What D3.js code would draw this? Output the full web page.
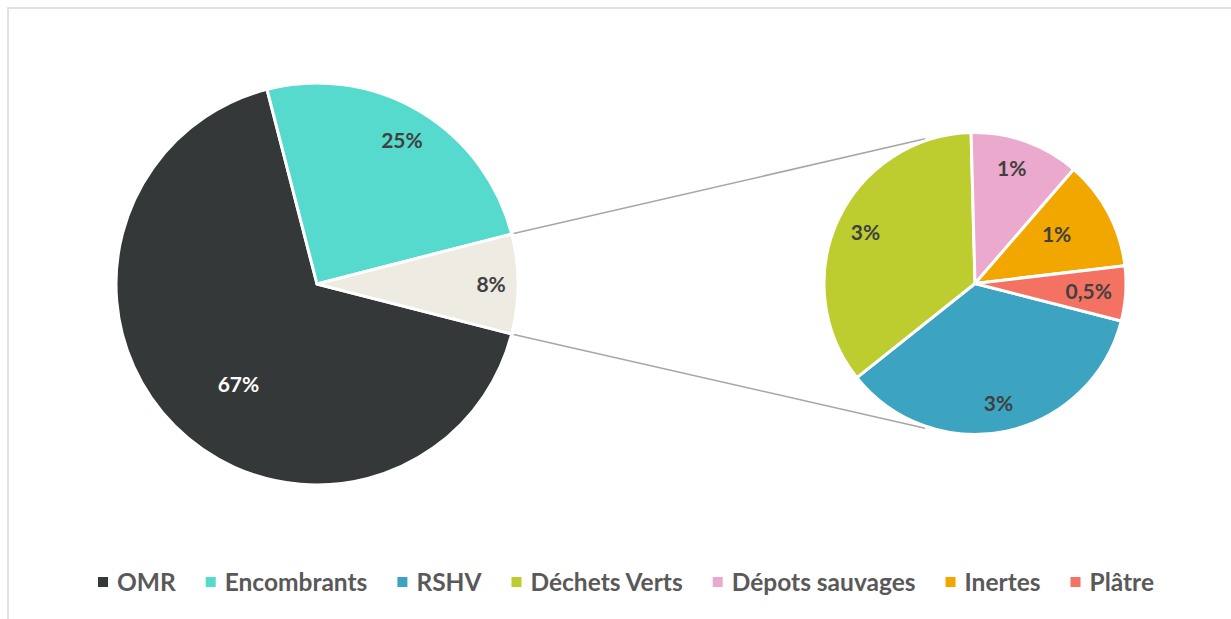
<!DOCTYPE html>
<html lang="fr">
<head>
<meta charset="utf-8">
<script src="https://cdn.jsdelivr.net/npm/d3@7"></script>
<style>
  html, body { margin: 0; padding: 0; background: #ffffff; }
  svg { display: block; }
  text { font-family: Lato, "Open Sans", "Noto Sans", sans-serif; font-weight: 700; }
</style>
</head>
<body>
<svg id="chart" width="1231" height="619"></svg>
<script>
// Main pie: share of each waste stream (%)
const mainCategories = ["OMR", "Encombrants", "Autres"];
const mainValues = [67, 25, 8];

// Breakdown of the "Autres" slice (%)
const detailCategories = ["RSHV", "Déchets Verts", "Dépots sauvages", "Inertes", "Plâtre"];
const detailValues = [3, 3, 1, 1, 0.5];

// Legend entries, in display order
const legendLabels = ["OMR", "Encombrants", "RSHV", "Déchets Verts", "Dépots sauvages", "Inertes", "Plâtre"];

const colorDomain = ["OMR", "Encombrants", "Autres", "RSHV", "Déchets Verts", "Dépots sauvages", "Inertes", "Plâtre"];
const colorRange  = ["#343838", "#55dacd", "#edebe2", "#3ca4c1", "#bdcd2f", "#eba9ce", "#f2a600", "#f47262"];
const color = d3.scaleOrdinal().domain(colorDomain).range(colorRange);

const svg = d3.select("#chart");
const width = 1231, height = 619;

// Chart frame (open on the right and bottom edges)
svg.append("rect")
  .attr("x", 8).attr("y", 8)
  .attr("width", width + 20).attr("height", height + 20)
  .attr("fill", "none").attr("stroke", "#d9d9d9").attr("stroke-width", 1.5);

const fr = d3.formatLocale({ decimal: ",", thousands: "\u00a0", grouping: [3], currency: ["", " €"] });
const fmtInt = fr.format(".0f"), fmtDec = fr.format(".1f");
const pct = v => (v < 1 ? fmtDec(v) : fmtInt(v)) + "%";

const deg = Math.PI / 180;
const mainTotal = d3.sum(mainValues);
const otherIndex = mainCategories.indexOf("Autres");
// The "Autres" slice is centred on the right (3 o'clock), as in a pie-of-pie
const startAngle = Math.PI / 2 + (mainValues[otherIndex] / mainTotal) * Math.PI;

const main = { cx: 317, cy: 284, r: 201 };
const detail = { cx: 975, cy: 283.5, r: 151 };

// label placement: fraction of radius, angular nudge (degrees)
const mainLabelLayout = [[0.635, -7], [0.83, 0], [0.866, 0]];
const detailLabelLayout = [[0.81, 1], [0.80, 0], [0.80, -2], [0.63, -3], [0.755, 0]];
const mainLabelColors = ["#ffffff", "#404040", "#404040"];

const pie = d3.pie().sort(null).value(d => d.value)
  .startAngle(startAngle).endAngle(startAngle + 2 * Math.PI);

const mainData = pie(mainCategories.map((c, i) => ({ cat: c, value: mainValues[i] })));
const detailData = pie(detailCategories.map((c, i) => ({ cat: c, value: detailValues[i] })));

function polar(cx, cy, r, a) {
  return [cx + r * Math.sin(a), cy - r * Math.cos(a)];
}

// Connector lines from the "Autres" slice to the secondary pie
const other = mainData[otherIndex];
const tilt = 19 * deg;
const connectors = [
  [polar(main.cx, main.cy, main.r + 2, other.startAngle), polar(detail.cx, detail.cy, detail.r + 2, -tilt)],
  [polar(main.cx, main.cy, main.r + 2, other.endAngle), polar(detail.cx, detail.cy, detail.r + 2, Math.PI + tilt)]
];
svg.append("g").selectAll("line").data(connectors).join("line")
  .attr("x1", d => d[0][0]).attr("y1", d => d[0][1])
  .attr("x2", d => d[1][0]).attr("y2", d => d[1][1])
  .attr("stroke", "#a6a6a6").attr("stroke-width", 1.5);

function drawPie(data, geo, layout, labelColors) {
  const arc = d3.arc().innerRadius(0).outerRadius(geo.r);
  const g = svg.append("g").attr("transform", `translate(${geo.cx},${geo.cy})`);
  g.selectAll("path").data(data).join("path")
    .attr("d", arc)
    .attr("fill", d => color(d.data.cat))
    .attr("stroke", "#ffffff").attr("stroke-width", 3).attr("stroke-linejoin", "round");
  g.selectAll("text").data(data).join("text")
    .attr("transform", (d, i) => {
      const a = (d.startAngle + d.endAngle) / 2 + layout[i][1] * deg;
      const p = polar(0, 0, geo.r * layout[i][0], a);
      return `translate(${p[0]},${p[1]})`;
    })
    .attr("text-anchor", "middle").attr("dy", "0.36em")
    .attr("font-size", 21)
    .attr("fill", (d, i) => labelColors ? labelColors[i] : "#404040")
    .text(d => pct(d.data.value));
}

drawPie(mainData, main, mainLabelLayout, mainLabelColors);
drawPie(detailData, detail, detailLabelLayout, null);

// Legend
const legend = svg.append("g");
const items = legend.selectAll("g").data(legendLabels).join("g");
items.append("rect")
  .attr("width", 10).attr("height", 10).attr("y", -5)
  .attr("fill", d => color(d));
items.append("text")
  .attr("x", 19).attr("dy", "0.36em")
  .attr("font-size", 24.5).attr("fill", "#595959")
  .text(d => d);

let x = 0;
const offsets = [];
items.each(function () {
  offsets.push(x);
  const w = d3.select(this).select("text").node().getComputedTextLength();
  x += 19 + w + 30;
});
const legendWidth = x - 30;
const legendLeft = 626 - legendWidth / 2;
items.attr("transform", (d, i) => `translate(${legendLeft + offsets[i]},582)`);
</script>
</body>
</html>
